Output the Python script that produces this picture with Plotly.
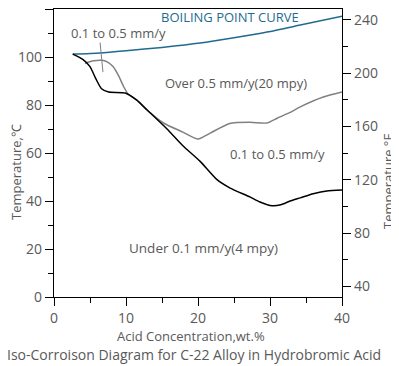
import plotly.graph_objects as go

# Boiling point curve (deg C vs wt.%)
boil_x = [2.6, 6.4, 10.0, 15.0, 20.3, 25.0, 29.6, 34.2, 40.0]
boil_y = [101.2, 101.7, 102.6, 104.0, 105.8, 108.0, 110.4, 113.3, 117.0]

# 0.1 mm/y iso-corrosion line (black)
low_x = [2.6, 4.0, 5.0, 5.8, 6.6, 7.6, 9.9, 11.5, 12.9, 15.7, 17.9, 20.3, 22.6, 24.4,
         27.2, 28.6, 30.3, 31.5, 32.8, 34.2, 36.0, 37.9, 40.0]
low_y = [101.2, 99.0, 96.0, 91.0, 86.8, 85.4, 85.0, 82.0, 78.0, 70.0, 63.0, 56.5, 49.0, 45.5,
         41.7, 39.6, 38.0, 38.4, 40.0, 41.3, 43.0, 44.2, 44.6]

# 0.5 mm/y iso-corrosion line (gray)
mid_x = [4.3, 5.5, 6.7, 7.5, 8.2, 9.0, 9.7, 10.3, 11.5, 12.9, 15.2, 17.9, 20.0, 21.7,
         24.4, 27.2, 29.6, 31.0, 32.8, 34.2, 37.4, 40.0]
mid_y = [97.3, 98.4, 98.6, 97.8, 96.0, 92.0, 87.5, 84.6, 82.0, 78.0, 72.5, 68.7, 65.8, 68.3,
         72.3, 72.8, 72.5, 74.5, 76.9, 79.2, 83.3, 85.4]

# Right axis (deg F) ticks
f_ticks = [40, 80, 120, 160, 200, 240]

TXT = "#595959"
BLUE = "#1f6b8e"
FONT = "Open Sans"

fig = go.Figure()
fig.add_trace(go.Scatter(x=boil_x, y=boil_y, mode="lines",
                         line=dict(color=BLUE, width=1.5, shape="spline", smoothing=0.6),
                         showlegend=False, hoverinfo="skip"))
fig.add_trace(go.Scatter(x=mid_x, y=mid_y, mode="lines",
                         line=dict(color="#808080", width=1.5, shape="spline", smoothing=0.6),
                         showlegend=False, hoverinfo="skip"))
fig.add_trace(go.Scatter(x=low_x, y=low_y, mode="lines",
                         line=dict(color="#000000", width=1.5, shape="spline", smoothing=0.6),
                         showlegend=False, hoverinfo="skip"))
# dummy trace to attach the right (deg F) axis
fig.add_trace(go.Scatter(x=[0], y=[32], yaxis="y2", mode="markers",
                         marker=dict(opacity=0), showlegend=False, hoverinfo="skip"))

tickfont = dict(family=FONT, size=14, color=TXT)

# page body has an 8px default margin, so the figure is 8px smaller than the window
fig.update_layout(
    width=391, height=358,
    margin=dict(l=46, r=57, t=1, b=69),
    paper_bgcolor="white", plot_bgcolor="white",
    font=dict(family=FONT, color=TXT, size=13),
    xaxis=dict(range=[0, 40], tick0=0, dtick=10, ticks="outside", ticklen=8,
               tickcolor="black", tickwidth=1, showline=True, linecolor="black",
               linewidth=1.2, mirror=True, showgrid=False, zeroline=False,
               tickfont=tickfont,
               minor=dict(dtick=5, ticks="outside", ticklen=5, tickcolor="black")),
    yaxis=dict(range=[0, 120], tick0=0, dtick=20, ticks="outside", ticklen=8,
               tickcolor="black", tickwidth=1, showline=True, linecolor="black",
               linewidth=1.2, showgrid=False, zeroline=False, tickfont=tickfont,
               minor=dict(dtick=10, ticks="outside", ticklen=5, tickcolor="black")),
    yaxis2=dict(range=[32, 248], overlaying="y", side="right", tickvals=f_ticks,
                ticks="outside", ticklen=8, tickcolor="black", tickwidth=1,
                showline=True, linecolor="black", linewidth=1.2, showgrid=False,
                zeroline=False, tickfont=tickfont,
                minor=dict(tick0=0, dtick=20, ticks="outside", ticklen=5, tickcolor="black")),
)

def note(text, x, y, color=TXT, size=13):
    fig.add_annotation(text=text, x=x, y=y, xref="x", yref="y", showarrow=False,
                       font=dict(family=FONT, size=size, color=color))

note("BOILING POINT CURVE", 24.4, 116.7, color=BLUE)
note("0.1 to 0.5 mm/y", 9.0, 110.0)
note("Over 0.5 mm/y(20 mpy)", 25.3, 89.2)
note("0.1 to 0.5 mm/y", 31.0, 59.6)
note("Under 0.1 mm/y(4 mpy)", 20.8, 20.4, size=13.5)

fig.add_shape(type="line", x0=6.4, y0=106.0, x1=6.8, y1=93.7, xref="x", yref="y",
              line=dict(color="#808080", width=1))

def paper_note(text, x, y, angle=0, size=13):
    fig.add_annotation(text=text, x=x, y=y, xref="paper", yref="paper", showarrow=False,
                       textangle=angle, xanchor="center", yanchor="middle",
                       font=dict(family=FONT, size=size, color=TXT))

# positions given in window pixels, converted to plot-area fractions
paper_note("Temperature,℃", (16 - 54) / 288, (297 - 172) / 288, angle=-90)
paper_note("Temperature,°F", (388 - 54) / 288, (297 - 182) / 288, angle=-90)
paper_note("Acid Concentration,wt.%", (191 - 54) / 288, (297 - 336) / 288)
paper_note("Iso-Corroison Diagram for C-22 Alloy in Hydrobromic Acid",
           (194 - 54) / 288, (297 - 354) / 288, size=14)

fig.write_html("out.html")
